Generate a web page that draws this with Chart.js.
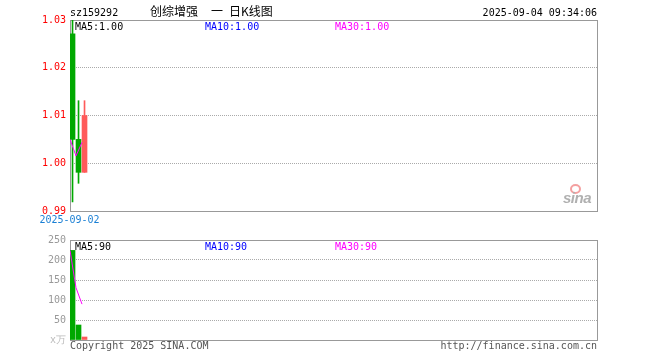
<!DOCTYPE html>
<html>
<head>
<meta charset="utf-8">
<script src="https://cdn.jsdelivr.net/npm/chart.js@4.4.1/dist/chart.umd.min.js"></script>
<style>
  html,body{margin:0;padding:0;background:#fff;}
  #wrap{position:relative;width:660px;height:360px;overflow:hidden;background:#fff;}
  canvas{position:absolute;left:0;}
  .t{position:absolute;font-family:"DejaVu Sans Mono",monospace;font-size:10px;line-height:12px;white-space:pre;}
  .cjk{position:absolute;font-family:"Noto Sans CJK SC",sans-serif;font-size:12px;line-height:12px;white-space:pre;color:#000;}
</style>
</head>
<body>
<div id="wrap">
  <canvas id="kc" width="660" height="230" style="top:0"></canvas>
  <canvas id="vc" width="660" height="130" style="top:230px"></canvas>

  <div class="t" id="code" style="left:70px;top:6.5px;color:#000"></div>
  <div class="cjk" style="left:150px;top:5px">创综增强</div>
  <div class="cjk" style="left:211px;top:5px">一</div>
  <div class="cjk" style="left:229px;top:5px">日K线图</div>
  <div class="t" id="stamp" style="right:63px;top:6.5px;color:#000;text-align:right"></div>

  <div class="t" id="kma5" style="left:75px;top:20.5px;color:#000"></div>
  <div class="t" id="kma10" style="left:205px;top:20.5px;color:#0000ff"></div>
  <div class="t" id="kma30" style="left:335px;top:20.5px;color:#ff00ff"></div>

  <div class="t" id="vma5" style="left:75px;top:240.5px;color:#000"></div>
  <div class="t" id="vma10" style="left:205px;top:240.5px;color:#0000ff"></div>
  <div class="t" id="vma30" style="left:335px;top:240.5px;color:#ff00ff"></div>

  <div class="t" style="left:70px;top:339.5px;color:#555">Copyright 2025 SINA.COM</div>
  <div class="t" style="right:63px;top:339.5px;color:#555;text-align:right">http://finance.sina.com.cn</div>

  <div style="position:absolute;left:570px;top:184px;width:7px;height:6px;border:2px solid #f4a0a0;border-radius:50%;"></div>
  <div style="position:absolute;left:563px;top:190px;font:italic bold 15px 'Liberation Sans',sans-serif;color:#b0b0b0;letter-spacing:-0.5px;line-height:16px">sina</div>
</div>
<script>
// ---- data ----
const stockCode = 'sz159292';
const timeStamp = '2025-09-04 09:34:06';
const dateLabels = ['2025-09-02'];
const barIndex = [0, 1, 2];
const openV  = [1.0271, 1.0050, 0.9981];
const highV  = [1.0300, 1.0131, 1.0131];
const lowV   = [0.9919, 0.9958, 0.9981];
const closeV = [1.0050, 0.9981, 1.0100];
const volumeV = [224, 37.5, 7.5];
const priceTicks = [0.99, 1.00, 1.01, 1.02, 1.03];
const volumeTicks = [0, 50, 100, 150, 200, 250];
const slotCount = 88;

// ---- helpers ----
function movingAvg(arr, n) {
  return arr.map((v, i) => {
    const s = arr.slice(Math.max(0, i - n + 1), i + 1);
    return s.reduce((a, b) => a + b, 0) / s.length;
  });
}
const UP = '#ff5a5a', DOWN = '#00a800', MA = '#ff00ff';
const colors = barIndex.map(i => closeV[i] >= openV[i] ? UP : DOWN);
const kMA5 = movingAvg(closeV, 5), kMA10 = movingAvg(closeV, 10), kMA30 = movingAvg(closeV, 30);
const vMA5 = movingAvg(volumeV, 5), vMA10 = movingAvg(volumeV, 10), vMA30 = movingAvg(volumeV, 30);
const last = a => a[a.length - 1];

document.getElementById('code').textContent = stockCode;
document.getElementById('stamp').textContent = timeStamp;
document.getElementById('kma5').textContent = 'MA5:' + last(kMA5).toFixed(2);
document.getElementById('kma10').textContent = 'MA10:' + last(kMA10).toFixed(2);
document.getElementById('kma30').textContent = 'MA30:' + last(kMA30).toFixed(2);
document.getElementById('vma5').textContent = 'MA5:' + last(vMA5).toFixed(0);
document.getElementById('vma10').textContent = 'MA10:' + last(vMA10).toFixed(0);
document.getElementById('vma30').textContent = 'MA30:' + last(vMA30).toFixed(0);

const monoFont = { family: 'DejaVu Sans Mono', size: 10 };
const xMin = -0.42, xMax = slotCount - 0.58;
const maShift = -0.42;

const frame = {
  id: 'frame',
  beforeDatasetsDraw(c) {
    const a = c.chartArea, ctx = c.ctx;
    ctx.save();
    ctx.strokeStyle = '#999';
    ctx.lineWidth = 1;
    ctx.strokeRect(a.left + 0.5, a.top + 0.5, a.right - a.left, a.bottom - a.top);
    ctx.restore();
  }
};

function inner(ticks) {
  return ctx => {
    const v = ctx.tick ? ctx.tick.value : null;
    if (v === null) return 'transparent';
    const lo = ticks[0], hi = ticks[ticks.length - 1];
    if (Math.abs(v - lo) < 1e-9 || Math.abs(v - hi) < 1e-9) return 'transparent';
    return '#aaa';
  };
}

new Chart(document.getElementById('kc'), {
  type: 'bar',
  data: {
    datasets: [
      { type: 'line', data: kMA5.map((v, i) => ({ x: barIndex[i] + maShift, y: v })),
        borderColor: MA, borderWidth: 1, pointRadius: 0, tension: 0, order: 0 },
      { data: barIndex.map(i => ({ x: i, y: [openV[i], closeV[i]] })),
        backgroundColor: colors, barThickness: 5, grouped: false, order: 1 },
      { data: barIndex.map(i => ({ x: i, y: [lowV[i], highV[i]] })),
        backgroundColor: colors, barThickness: 1, grouped: false, order: 2 }
    ]
  },
  options: {
    responsive: false, animation: false,
    layout: { padding: { top: 20, right: 63, bottom: 0, left: 0 } },
    plugins: { legend: { display: false }, tooltip: { enabled: false } },
    scales: {
      x: {
        type: 'linear', min: xMin, max: xMax, offset: false,
        afterFit: s => { s.height = 19; },
        afterBuildTicks: s => { s.ticks = dateLabels.map((d, i) => ({ value: barIndex[i] })); },
        ticks: { callback: (v, i) => dateLabels[i], color: '#1a7fd4', font: monoFont,
                 labelOffset: -3, padding: 3, maxRotation: 0, autoSkip: false },
        grid: { display: false, drawTicks: false, offset: false },
        border: { display: false }
      },
      y: {
        min: priceTicks[0], max: priceTicks[priceTicks.length - 1],
        afterFit: s => { s.width = 70; },
        afterBuildTicks: s => { s.ticks = priceTicks.map(v => ({ value: v })); },
        ticks: { color: '#ff0000', font: monoFont, padding: 4, callback: v => Number(v).toFixed(2) },
        grid: { color: inner(priceTicks), lineWidth: 1, drawTicks: false },
        border: { display: false, dash: [1, 1] }
      }
    }
  },
  plugins: [frame]
});

new Chart(document.getElementById('vc'), {
  type: 'bar',
  data: {
    datasets: [
      { type: 'line', data: vMA5.map((v, i) => ({ x: barIndex[i] + maShift, y: v })),
        borderColor: MA, borderWidth: 1, pointRadius: 0, tension: 0, order: 0 },
      { data: barIndex.map(i => ({ x: i, y: volumeV[i] })),
        backgroundColor: colors, barThickness: 5, grouped: false, order: 1 }
    ]
  },
  options: {
    responsive: false, animation: false,
    layout: { padding: { top: 10, right: 63, bottom: 20, left: 0 } },
    plugins: { legend: { display: false }, tooltip: { enabled: false } },
    scales: {
      x: { type: 'linear', min: xMin, max: xMax, offset: false, display: false,
           grid: { offset: false } },
      y: {
        min: volumeTicks[0], max: volumeTicks[volumeTicks.length - 1],
        afterFit: s => { s.width = 70; },
        afterBuildTicks: s => { s.ticks = volumeTicks.map(v => ({ value: v })); },
        ticks: { color: ctx => (ctx.tick && ctx.tick.value === 0) ? '#bbb' : '#999',
                 font: monoFont, padding: 4, callback: v => v === 0 ? 'x万' : String(v) },
        grid: { color: inner(volumeTicks), lineWidth: 1, drawTicks: false },
        border: { display: false, dash: [1, 1] }
      }
    }
  },
  plugins: [frame]
});
</script>
</body>
</html>
